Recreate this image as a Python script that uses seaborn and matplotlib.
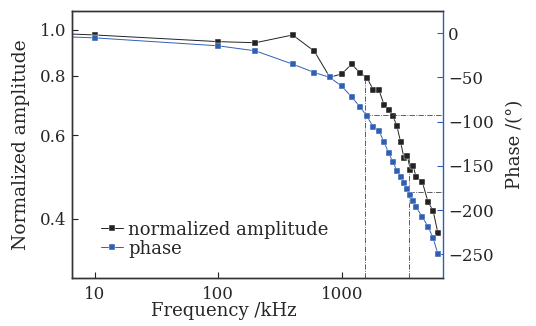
import matplotlib
matplotlib.use("Agg")
import matplotlib.pyplot as plt
import seaborn as sns
import pandas as pd

# ---- data ----
freq_khz = [1, 10, 100, 200, 400, 600, 800, 1000, 1200, 1400, 1600, 1800, 2000,
            2200, 2400, 2600, 2800, 3000, 3200, 3400, 3600, 3800, 4000, 4500,
            5000, 5500, 6000]
amplitude = [1.0, 0.976, 0.945, 0.940, 0.976, 0.902, 0.795, 0.808, 0.847, 0.813,
             0.793, 0.748, 0.748, 0.696, 0.679, 0.659, 0.627, 0.580, 0.536, 0.542,
             0.507, 0.516, 0.490, 0.478, 0.434, 0.416, 0.374]
phase_deg = [0, -5.3, -14.3, -20, -35, -44.5, -50, -60, -72, -83, -94, -106, -110.5,
             -123, -135.7, -145.6, -155.8, -162.9, -169.7, -176.5, -182.5, -189.7,
             -196.5, -208, -218.7, -231.9, -249.2]
ref_freq = [1540, 3480]
ref_amp = [0.785, 0.542]
ref_phase = [-93, -180]

amp_ticks = [0.4, 0.6, 0.8, 1.0]
amp_ticklabels = ["0.4", "0.6", "0.8", "1.0"]
phase_ticks = [0, -50, -100, -150, -200, -250]
x_ticks = [10, 100, 1000]
x_ticklabels = ["10", "100", "1000"]

df = pd.DataFrame({"freq": freq_khz, "amp": amplitude, "phase": phase_deg})

sns.set_style("ticks")
plt.rcParams["font.family"] = ["DejaVu Serif"]
plt.rcParams["font.size"] = 11

BLUE = "#2f5fb3"
DARK = "#222222"

fig = plt.figure(figsize=(5.36, 3.26), dpi=100)
ax = fig.add_axes([0.134, 0.147, 0.692, 0.819])
ax2 = ax.twinx()

XMIN, XMAX = 6.5, 6580
AMIN, AMAX = 0.30, 1.096
PMIN, PMAX = -277, 25

sns.lineplot(data=df, x="freq", y="amp", ax=ax, color=DARK, marker="s",
             markersize=5, markeredgecolor="white", markeredgewidth=0.3,
             linewidth=0.7, label="normalized amplitude", legend=False)
sns.lineplot(data=df, x="freq", y="phase", ax=ax2, color=BLUE, marker="s",
             markersize=5, markeredgecolor="white", markeredgewidth=0.3,
             linewidth=0.7, label="phase", legend=False)

ax.set_xscale("log")
ax.set_yscale("log")
ax.set_xlim(XMIN, XMAX)
ax.set_ylim(AMIN, AMAX)
ax2.set_ylim(PMIN, PMAX)

# reference lines
for f, a, p in zip(ref_freq, ref_amp, ref_phase):
    ax.plot([f, f], [AMIN, a], color="#444444", lw=0.6, ls="-.", zorder=1)
    ax2.plot([f, XMAX], [p, p], color="#444444", lw=0.6, ls="-.", zorder=1)

ax.set_xticks(x_ticks)
ax.set_xticklabels(x_ticklabels)
ax.xaxis.set_minor_locator(matplotlib.ticker.NullLocator())
ax.set_yticks(amp_ticks)
ax.set_yticklabels(amp_ticklabels)
ax.yaxis.set_minor_locator(matplotlib.ticker.NullLocator())
ax2.set_yticks(phase_ticks)

ax.tick_params(axis="both", direction="in", length=4, width=0.8, color=DARK,
               labelsize=12, pad=4)
ax.tick_params(axis="x", pad=6)
ax2.tick_params(axis="y", direction="in", length=4, width=0.8, color=BLUE,
                labelsize=12, pad=4)

for s in ["left", "bottom", "top"]:
    ax.spines[s].set_color("#333333")
    ax.spines[s].set_linewidth(1.0)
    ax2.spines[s].set_color("#333333")
    ax2.spines[s].set_linewidth(1.0)
ax2.spines["right"].set_color(BLUE)
ax2.spines["right"].set_linewidth(1.0)
ax.spines["right"].set_visible(False)

ax.set_xlabel("Frequency /kHz", fontsize=13)
ax.xaxis.set_label_coords(0.41, -0.09)
ax.set_ylabel("Normalized amplitude", fontsize=13.5, labelpad=7)
ax2.set_ylabel("Phase /(°)", fontsize=13, labelpad=9)

h1, l1 = ax.get_legend_handles_labels()
h2, l2 = ax2.get_legend_handles_labels()
ax2.legend(h1 + h2, l1 + l2, loc="lower left", bbox_to_anchor=(0.06, 0.05),
           frameon=False, handlelength=1.2, handletextpad=0.3, labelspacing=0.05,
           fontsize=13, borderaxespad=0)

fig.savefig("out.png", dpi=100)
